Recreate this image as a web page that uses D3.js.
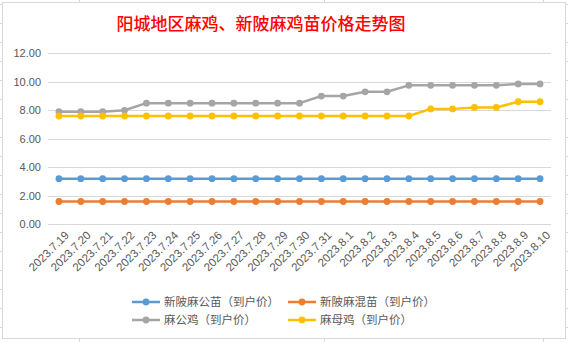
<!DOCTYPE html>
<html><head><meta charset="utf-8">
<script src="https://cdn.jsdelivr.net/npm/d3@7"></script>
<style>body{margin:0;background:#fff}svg{display:block}</style>
</head><body>
<svg id="c" width="568" height="342"></svg>
<script>
const title = "阳城地区麻鸡、新陂麻鸡苗价格走势图";
const dates = ["2023.7.19","2023.7.20","2023.7.21","2023.7.22","2023.7.23","2023.7.24","2023.7.25","2023.7.26","2023.7.27","2023.7.28","2023.7.29","2023.7.30","2023.7.31","2023.8.1","2023.8.2","2023.8.3","2023.8.4","2023.8.5","2023.8.6","2023.8.7","2023.8.8","2023.8.9","2023.8.10"];
const seriesNames = ["新陂麻公苗（到户价）","新陂麻混苗（到户价）","麻公鸡（到户价）","麻母鸡（到户价）"];
const seriesColors = ["#5B9BD5","#ED7D31","#A5A5A5","#FFC000"];
const maleChick  = [3.2,3.2,3.2,3.2,3.2,3.2,3.2,3.2,3.2,3.2,3.2,3.2,3.2,3.2,3.2,3.2,3.2,3.2,3.2,3.2,3.2,3.2,3.2];
const mixedChick = [1.6,1.6,1.6,1.6,1.6,1.6,1.6,1.6,1.6,1.6,1.6,1.6,1.6,1.6,1.6,1.6,1.6,1.6,1.6,1.6,1.6,1.6,1.6];
const rooster    = [7.9,7.9,7.9,8.0,8.5,8.5,8.5,8.5,8.5,8.5,8.5,8.5,9.0,9.0,9.3,9.3,9.75,9.75,9.75,9.75,9.75,9.85,9.85];
const hen        = [7.6,7.6,7.6,7.6,7.6,7.6,7.6,7.6,7.6,7.6,7.6,7.6,7.6,7.6,7.6,7.6,7.6,8.1,8.1,8.2,8.2,8.6,8.6];
const yTicks = [0,2,4,6,8,10,12];

const svg = d3.select("#c");

// spreadsheet cell gridlines peeking outside the chart frame
const cellG = svg.append("g").attr("stroke","#D9D9D9").attr("stroke-width",1);
[79,324,543].forEach(x=>cellG.append("line").attr("x1",x+0.5).attr("x2",x+0.5).attr("y1",0).attr("y2",3));
[79,324,543].forEach(x=>cellG.append("line").attr("x1",x+0.5).attr("x2",x+0.5).attr("y1",339).attr("y2",342));
for(let y=4;y<342;y+=19){
  cellG.append("line").attr("x1",0).attr("x2",3).attr("y1",y+0.5).attr("y2",y+0.5);
  cellG.append("line").attr("x1",565).attr("x2",568).attr("y1",y+0.5).attr("y2",y+0.5);
}
// chart frame
svg.append("rect").attr("x",2.5).attr("y",2.5).attr("width",563).attr("height",336)
  .attr("fill","#fff").attr("stroke","#D9D9D9").attr("stroke-width",1);

// title
svg.append("text").attr("x",261).attr("y",30).attr("text-anchor","middle")
  .attr("font-family","'Noto Sans CJK SC'").attr("font-size",17).attr("font-weight",500)
  .attr("fill","#FF0000").text(title);

const x = d3.scaleBand().domain(dates).range([48,551]);
const y = d3.scaleLinear().domain([0,12]).range([224.3,53.3]);

// gridlines
svg.append("g").selectAll("line").data(yTicks).join("line")
  .attr("x1",48).attr("x2",551)
  .attr("y1",d=>Math.round(y(d))+0.5).attr("y2",d=>Math.round(y(d))+0.5)
  .attr("stroke","#D9D9D9").attr("stroke-width",1);

// y axis labels
const yAxis = d3.axisLeft(y).tickValues(yTicks).tickFormat(d3.format(".2f")).tickSize(0).tickPadding(0);
const ya = svg.append("g").attr("transform","translate(41,0)").call(yAxis);
ya.select(".domain").remove();
ya.selectAll("text").attr("font-family","'Liberation Sans'").attr("font-size",11).attr("fill","#595959");

// x axis labels
const xAxis = d3.axisBottom(x).tickSize(0).tickPadding(0);
const xa = svg.append("g").attr("transform","translate(0,233)").call(xAxis);
xa.select(".domain").remove();
xa.selectAll("text")
  .attr("font-family","'Liberation Sans'").attr("font-size",11.5).attr("fill","#595959")
  .attr("text-anchor","end").attr("dy","0.35em")
  .attr("transform","translate(8,0) rotate(-45)");

// series
const allSeries = [maleChick, mixedChick, rooster, hen];
const line = d3.line().x((d,i)=>x(dates[i])+x.bandwidth()/2).y(d=>y(d));
allSeries.forEach((vals,si)=>{
  const g = svg.append("g");
  g.append("path").datum(vals).attr("d",line).attr("fill","none")
    .attr("stroke",seriesColors[si]).attr("stroke-width",2.5).attr("stroke-linejoin","round");
  g.selectAll("circle").data(vals).join("circle")
    .attr("cx",(d,i)=>x(dates[i])+x.bandwidth()/2).attr("cy",d=>y(d)).attr("r",3.4)
    .attr("fill",seriesColors[si]);
});

// legend
const legendPos = [[132,302],[288,302],[132,320],[288,320]];
seriesNames.forEach((n,i)=>{
  const [lx,ly] = legendPos[i];
  const g = svg.append("g").attr("transform",`translate(${lx},${ly})`);
  g.append("line").attr("x1",0).attr("x2",28).attr("y1",0).attr("y2",0)
    .attr("stroke",seriesColors[i]).attr("stroke-width",2.5);
  g.append("circle").attr("cx",14).attr("cy",0).attr("r",3.4).attr("fill",seriesColors[i]);
  g.append("text").attr("x",32).attr("y",0).attr("dy","0.36em")
    .attr("font-family","'Noto Sans CJK SC'").attr("font-size",11.5).attr("fill","#595959").text(n);
});
</script>
</body></html>
